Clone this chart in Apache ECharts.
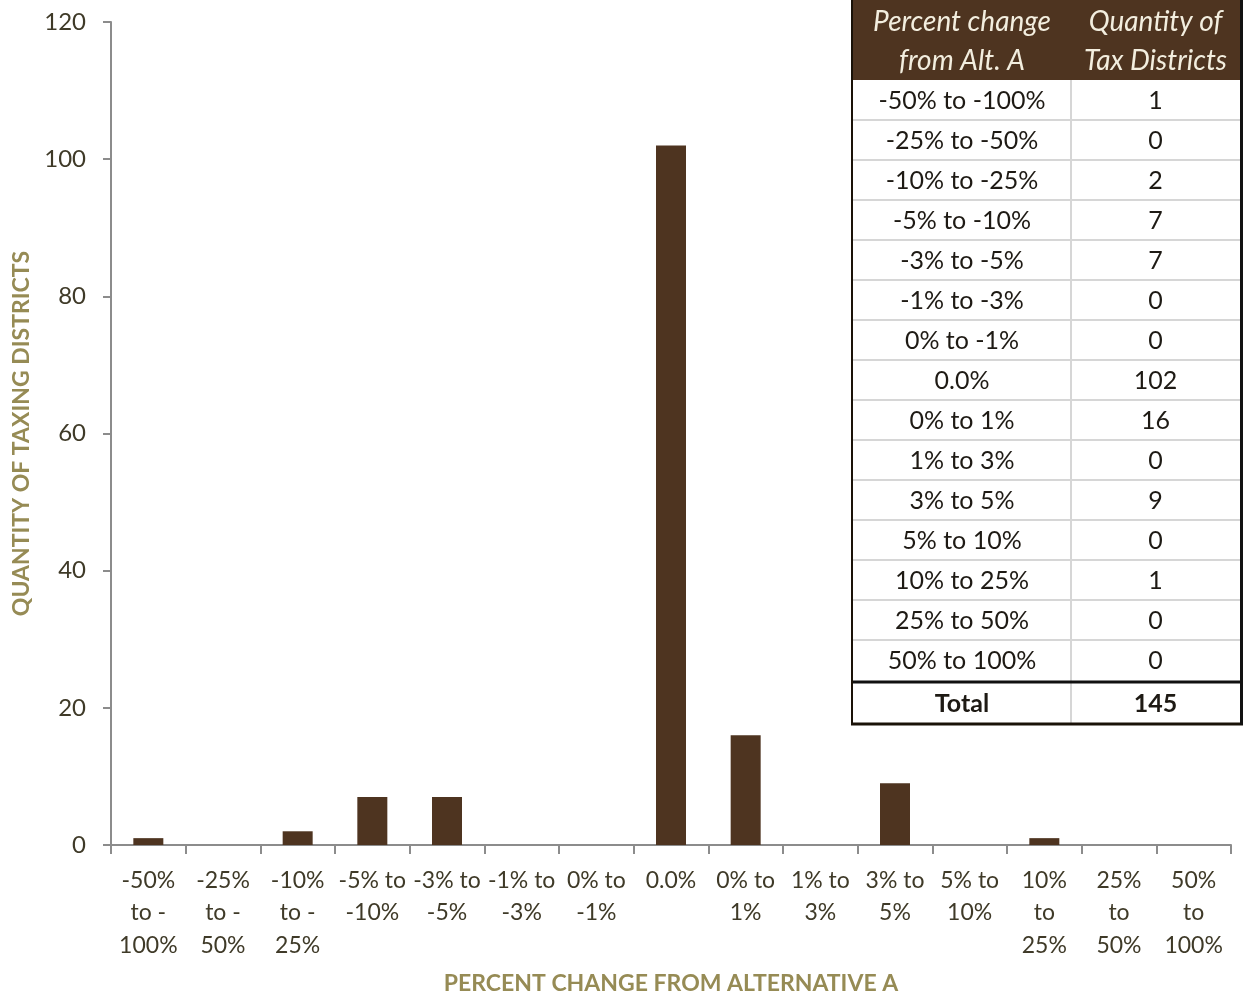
<!DOCTYPE html>
<html><head><meta charset="utf-8">
<script src="https://cdn.jsdelivr.net/npm/echarts@6/dist/echarts.min.js"></script>
<style>html,body{margin:0;padding:0;background:#fff}#c{width:1244px;height:998px}</style>
</head><body><div id="c"></div>
<script>
// ---- data ----
const categories = ["-50%\nto -\n100%","-25%\nto -\n50%","-10%\nto -\n25%","-5% to\n-10%","-3% to\n-5%","-1% to\n-3%","0% to\n-1%","0.0%","0% to\n1%","1% to\n3%","3% to\n5%","5% to\n10%","10%\nto\n25%","25%\nto\n50%","50%\nto\n100%"];
const counts = [1,0,2,7,7,0,0,102,16,0,9,0,1,0,0];
const yTicks = [0,20,40,60,80,100,120];
const tableHeader = [["Percent change","from Alt. A"],["Quantity of","Tax Districts"]];
const tableRanges = ["-50% to -100%","-25% to -50%","-10% to -25%","-5% to -10%","-3% to -5%","-1% to -3%","0% to -1%","0.0%","0% to 1%","1% to 3%","3% to 5%","5% to 10%","10% to 25%","25% to 50%","50% to 100%"];
const tableCounts = [1,0,2,7,7,0,0,102,16,0,9,0,1,0,0];
const totalLabel = "Total";
const totalValue = 145;

// ---- table graphic ----
const FONT = 'Lato, "Open Sans", sans-serif';
const tx0 = 853, tx1 = 1071, tx2 = 1240, rowH = 40, headH = 80;
const g = [];
g.push({type:'rect', shape:{x:tx0, y:0, width:tx2-tx0, height:723}, style:{fill:'#fff'}});
g.push({type:'rect', shape:{x:tx0, y:0, width:tx2-tx0, height:headH}, style:{fill:'#4e3420'}});
tableHeader.forEach((lines, ci) => {
  const cx = ci === 0 ? (tx0+tx1)/2 : (tx1+tx2)/2;
  lines.forEach((t, li) => {
    g.push({type:'text', style:{text:t, x:cx, y:22+li*39, align:'center', verticalAlign:'middle',
      font:'italic 28px '+FONT, fill:'#f3eedf'}});
  });
});
tableRanges.forEach((r, i) => {
  const y = headH + i*rowH;
  g.push({type:'text', style:{text:r, x:(tx0+tx1)/2, y:y+rowH/2+1, align:'center', verticalAlign:'middle', font:'25px '+FONT, fill:'#1e1a14'}});
  g.push({type:'text', style:{text:String(tableCounts[i]), x:(tx1+tx2)/2, y:y+rowH/2+1, align:'center', verticalAlign:'middle', font:'25px '+FONT, fill:'#1e1a14'}});
  if (i > 0) g.push({type:'line', shape:{x1:tx0, y1:y, x2:tx2, y2:y}, style:{stroke:'#d6d6d6', lineWidth:2}});
});
const yTot = headH + tableRanges.length*rowH;
g.push({type:'line', shape:{x1:tx1, y1:headH, x2:tx1, y2:723}, style:{stroke:'#d6d6d6', lineWidth:2}});
g.push({type:'line', shape:{x1:tx0, y1:yTot+2, x2:tx2, y2:yTot+2}, style:{stroke:'#111', lineWidth:3}});
g.push({type:'text', style:{text:totalLabel, x:(tx0+tx1)/2, y:yTot+24, align:'center', verticalAlign:'middle', font:'bold 25px '+FONT, fill:'#1e1a14'}});
g.push({type:'text', style:{text:String(totalValue), x:(tx1+tx2)/2, y:yTot+24, align:'center', verticalAlign:'middle', font:'bold 25px '+FONT, fill:'#1e1a14'}});
g.push({type:'line', shape:{x1:852, y1:0, x2:852, y2:725}, style:{stroke:'#1a1208', lineWidth:2}});
g.push({type:'line', shape:{x1:851, y1:724, x2:1243, y2:724}, style:{stroke:'#1a1208', lineWidth:3}});
g.push({type:'line', shape:{x1:1241.5, y1:0, x2:1241.5, y2:725}, style:{stroke:'#111', lineWidth:3}});

const chart = echarts.init(document.getElementById('c'));
chart.setOption({
  animation:false,
  backgroundColor:'#fff',
  grid:{left:111, right:13, top:22, bottom:153, containLabel:false, outerBoundsMode:'none'},
  xAxis:{
    type:'category', data:categories,
    name:'PERCENT CHANGE FROM ALTERNATIVE A', nameLocation:'middle', nameGap:127,
    nameTextStyle:{fontFamily:FONT, fontSize:23, fontWeight:'bold', color:'#968b55'},
    axisLine:{lineStyle:{color:'#8c8c8c', width:2}},
    axisTick:{show:true, length:9, lineStyle:{color:'#8c8c8c', width:2}, alignWithLabel:false},
    axisLabel:{interval:0, fontFamily:FONT, fontSize:23, color:'#3f3a28', lineHeight:32.5, margin:19, verticalAlign:'top'},
    splitLine:{show:false}
  },
  yAxis:{
    type:'value', min:0, max:120, interval:20,
    name:'QUANTITY OF TAXING DISTRICTS', nameLocation:'middle', nameGap:77, nameRotate:90,
    nameTextStyle:{fontFamily:FONT, fontSize:23, fontWeight:'bold', color:'#968b55'},
    axisLine:{show:true, lineStyle:{color:'#8c8c8c', width:2}},
    axisTick:{show:true, length:8, lineStyle:{color:'#8c8c8c', width:2}},
    axisLabel:{fontFamily:FONT, fontSize:24, color:'#3f3a28', margin:25,
      formatter:v => yTicks.includes(v) ? String(v) : ''},
    splitLine:{show:false}
  },
  series:[{type:'bar', data:counts, barWidth:30, itemStyle:{color:'#4e3420'}}],
  graphic:{elements:g}
});
</script></body></html>
